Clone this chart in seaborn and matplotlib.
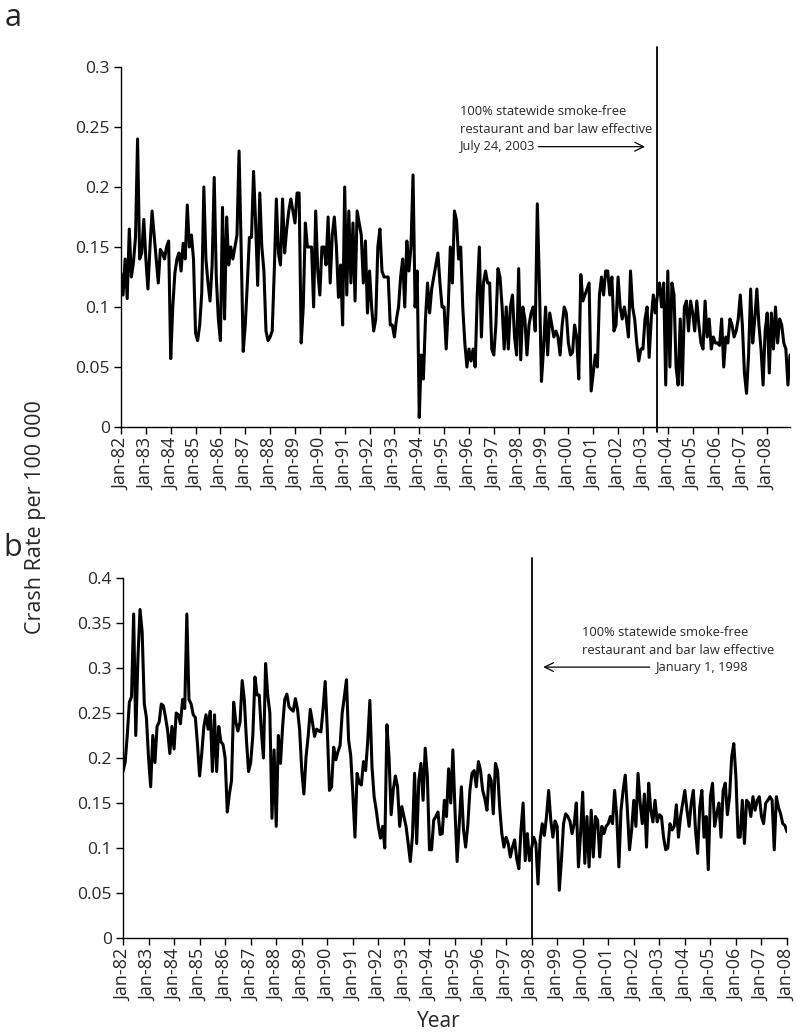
import matplotlib
matplotlib.use("Agg")
import matplotlib.pyplot as plt
import seaborn as sns
import pandas as pd

# ---------------- data (monthly crash rate per 100 000) ----------------
# Panel a: Jan-1982 .. Dec-2008
a1982 = [0.128, 0.11, 0.14, 0.107, 0.165, 0.125, 0.137, 0.158, 0.24, 0.14, 0.145, 0.173]
a1983 = [0.14, 0.115, 0.15, 0.18, 0.16, 0.14, 0.12, 0.148, 0.145, 0.14, 0.15, 0.155]
a1984 = [0.057, 0.1, 0.128, 0.14, 0.145, 0.13, 0.153, 0.14, 0.185, 0.15, 0.16, 0.14]
a1985 = [0.078, 0.072, 0.085, 0.112, 0.2, 0.14, 0.12, 0.105, 0.135, 0.208, 0.125, 0.09]
a1986 = [0.072, 0.183, 0.09, 0.175, 0.135, 0.15, 0.14, 0.15, 0.16, 0.23, 0.15, 0.063]
a1987 = [0.085, 0.12, 0.158, 0.158, 0.213, 0.17, 0.118, 0.195, 0.15, 0.13, 0.08, 0.072]
a1988 = [0.075, 0.08, 0.13, 0.19, 0.145, 0.135, 0.19, 0.145, 0.165, 0.18, 0.19, 0.18]
a1989 = [0.17, 0.195, 0.195, 0.07, 0.1, 0.17, 0.15, 0.15, 0.15, 0.1, 0.18, 0.13]
a1990 = [0.11, 0.15, 0.15, 0.135, 0.175, 0.12, 0.16, 0.175, 0.15, 0.108, 0.135, 0.085]
a1991 = [0.2, 0.11, 0.18, 0.12, 0.17, 0.105, 0.18, 0.17, 0.16, 0.12, 0.155, 0.095]
a1992 = [0.13, 0.1, 0.08, 0.09, 0.15, 0.165, 0.13, 0.125, 0.125, 0.125, 0.085, 0.085]
a1993 = [0.075, 0.09, 0.1, 0.125, 0.14, 0.1, 0.155, 0.13, 0.15, 0.21, 0.1, 0.13]
a1994 = [0.008, 0.06, 0.04, 0.09, 0.12, 0.095, 0.115, 0.125, 0.135, 0.145, 0.12, 0.1]
a1995 = [0.1, 0.065, 0.1, 0.15, 0.12, 0.18, 0.172, 0.14, 0.15, 0.1, 0.07, 0.05]
a1996 = [0.065, 0.055, 0.065, 0.05, 0.11, 0.15, 0.075, 0.12, 0.13, 0.12, 0.12, 0.065]
a1997 = [0.06, 0.085, 0.132, 0.125, 0.1, 0.065, 0.1, 0.065, 0.1, 0.11, 0.075, 0.06]
a1998 = [0.132, 0.056, 0.1, 0.09, 0.06, 0.085, 0.095, 0.1, 0.08, 0.186, 0.12, 0.038]
a1999 = [0.065, 0.1, 0.06, 0.095, 0.085, 0.075, 0.08, 0.075, 0.06, 0.085, 0.1, 0.095]
a2000 = [0.07, 0.06, 0.062, 0.085, 0.075, 0.04, 0.127, 0.105, 0.11, 0.115, 0.12, 0.03]
a2001 = [0.045, 0.06, 0.05, 0.11, 0.125, 0.11, 0.13, 0.13, 0.11, 0.125, 0.08, 0.085]
a2002 = [0.125, 0.1, 0.09, 0.1, 0.09, 0.075, 0.13, 0.1, 0.09, 0.07, 0.055, 0.065]
a2003 = [0.065, 0.09, 0.1, 0.058, 0.09, 0.11, 0.095, 0.11, 0.12, 0.1, 0.12, 0.035]
a2004 = [0.13, 0.05, 0.12, 0.11, 0.05, 0.035, 0.09, 0.035, 0.1, 0.105, 0.08, 0.105]
a2005 = [0.095, 0.08, 0.105, 0.085, 0.07, 0.065, 0.105, 0.075, 0.09, 0.065, 0.075, 0.07]
a2006 = [0.07, 0.068, 0.09, 0.05, 0.075, 0.07, 0.09, 0.085, 0.075, 0.08, 0.09, 0.11]
a2007 = [0.085, 0.045, 0.028, 0.06, 0.115, 0.07, 0.09, 0.115, 0.085, 0.065, 0.035, 0.08]
a2008 = [0.095, 0.045, 0.095, 0.065, 0.1, 0.07, 0.09, 0.085, 0.07, 0.065, 0.035, 0.06]

# Panel b: Jan-1982 .. Jan-2008
b1982 = [0.185, 0.195, 0.225, 0.262, 0.268, 0.36, 0.225, 0.31, 0.365, 0.34, 0.26, 0.245]
b1983 = [0.2, 0.168, 0.225, 0.195, 0.235, 0.24, 0.26, 0.258, 0.245, 0.23, 0.205, 0.235]
b1984 = [0.21, 0.25, 0.248, 0.238, 0.265, 0.255, 0.36, 0.265, 0.26, 0.248, 0.245, 0.215]
b1985 = [0.18, 0.205, 0.235, 0.248, 0.232, 0.252, 0.185, 0.248, 0.185, 0.235, 0.218, 0.215]
b1986 = [0.2, 0.14, 0.16, 0.175, 0.262, 0.24, 0.23, 0.24, 0.286, 0.265, 0.22, 0.185]
b1987 = [0.195, 0.225, 0.29, 0.27, 0.27, 0.23, 0.2, 0.305, 0.27, 0.25, 0.133, 0.209]
b1988 = [0.124, 0.225, 0.194, 0.235, 0.265, 0.271, 0.257, 0.254, 0.252, 0.266, 0.254, 0.231]
b1989 = [0.186, 0.16, 0.201, 0.224, 0.254, 0.24, 0.224, 0.232, 0.23, 0.229, 0.254, 0.285]
b1990 = [0.231, 0.164, 0.168, 0.212, 0.198, 0.207, 0.214, 0.25, 0.268, 0.287, 0.22, 0.203]
b1991 = [0.16, 0.112, 0.183, 0.172, 0.17, 0.196, 0.186, 0.219, 0.264, 0.19, 0.157, 0.142]
b1992 = [0.124, 0.111, 0.124, 0.1, 0.237, 0.201, 0.137, 0.165, 0.18, 0.168, 0.124, 0.146]
b1993 = [0.135, 0.124, 0.105, 0.085, 0.113, 0.183, 0.105, 0.175, 0.194, 0.153, 0.211, 0.18]
b1994 = [0.098, 0.098, 0.131, 0.135, 0.14, 0.115, 0.116, 0.153, 0.135, 0.188, 0.15, 0.209]
b1995 = [0.142, 0.085, 0.127, 0.168, 0.12, 0.101, 0.125, 0.164, 0.183, 0.186, 0.168, 0.196]
b1996 = [0.186, 0.164, 0.155, 0.142, 0.181, 0.175, 0.138, 0.194, 0.186, 0.145, 0.116, 0.101]
b1997 = [0.112, 0.105, 0.09, 0.101, 0.109, 0.088, 0.077, 0.12, 0.15, 0.086, 0.116, 0.086]
b1998 = [0.1, 0.112, 0.105, 0.06, 0.109, 0.127, 0.114, 0.135, 0.164, 0.131, 0.112, 0.13]
b1999 = [0.124, 0.053, 0.086, 0.127, 0.138, 0.135, 0.13, 0.116, 0.127, 0.15, 0.079, 0.116]
b2000 = [0.162, 0.083, 0.135, 0.079, 0.142, 0.09, 0.135, 0.131, 0.09, 0.124, 0.116, 0.124]
b2001 = [0.127, 0.135, 0.127, 0.164, 0.135, 0.079, 0.142, 0.164, 0.181, 0.142, 0.098, 0.12]
b2002 = [0.153, 0.124, 0.183, 0.15, 0.127, 0.16, 0.101, 0.172, 0.142, 0.129, 0.153, 0.129]
b2003 = [0.137, 0.135, 0.112, 0.098, 0.1, 0.127, 0.12, 0.124, 0.148, 0.112, 0.135, 0.15]
b2004 = [0.164, 0.142, 0.124, 0.15, 0.164, 0.12, 0.094, 0.145, 0.164, 0.112, 0.135, 0.076]
b2005 = [0.157, 0.172, 0.124, 0.138, 0.15, 0.112, 0.164, 0.172, 0.137, 0.157, 0.201, 0.216]
b2006 = [0.179, 0.112, 0.112, 0.153, 0.105, 0.153, 0.15, 0.135, 0.157, 0.142, 0.153, 0.157]
b2007 = [0.135, 0.127, 0.15, 0.153, 0.157, 0.153, 0.098, 0.157, 0.145, 0.138, 0.127, 0.125]
b2008 = [0.118]

tick_labels = ["Jan-82", "Jan-83", "Jan-84", "Jan-85", "Jan-86", "Jan-87", "Jan-88",
               "Jan-89", "Jan-90", "Jan-91", "Jan-92", "Jan-93", "Jan-94", "Jan-95",
               "Jan-96", "Jan-97", "Jan-98", "Jan-99", "Jan-00", "Jan-01", "Jan-02",
               "Jan-03", "Jan-04", "Jan-05", "Jan-06", "Jan-07", "Jan-08"]
yticks_a = [0, 0.05, 0.1, 0.15, 0.2, 0.25, 0.3]
yticks_b = [0, 0.05, 0.1, 0.15, 0.2, 0.25, 0.3, 0.35, 0.4]
ylabels_a = ["0", "0.05", "0.1", "0.15", "0.2", "0.25", "0.3"]
ylabels_b = ["0", "0.05", "0.1", "0.15", "0.2", "0.25", "0.3", "0.35", "0.4"]

law_a_month = 258.74   # 24 July 2003, months since Jan-1982
law_b_month = 192.0    # 1 January 1998

rate_a = (a1982 + a1983 + a1984 + a1985 + a1986 + a1987 + a1988 + a1989 + a1990
          + a1991 + a1992 + a1993 + a1994 + a1995 + a1996 + a1997 + a1998 + a1999
          + a2000 + a2001 + a2002 + a2003 + a2004 + a2005 + a2006 + a2007 + a2008)
rate_b = (b1982 + b1983 + b1984 + b1985 + b1986 + b1987 + b1988 + b1989 + b1990
          + b1991 + b1992 + b1993 + b1994 + b1995 + b1996 + b1997 + b1998 + b1999
          + b2000 + b2001 + b2002 + b2003 + b2004 + b2005 + b2006 + b2007 + b2008)

df_a = pd.DataFrame({"month": list(range(len(rate_a))), "rate": rate_a})
df_b = pd.DataFrame({"month": list(range(len(rate_b))), "rate": rate_b})

# ---------------- style ----------------
sns.set_style("ticks")
plt.rcParams["font.family"] = ["Open Sans", "DejaVu Sans"]

W, H = 797, 1035
fig = plt.figure(figsize=(W / 100, H / 100), dpi=100)
axa = fig.add_axes([121 / W, 1 - 427 / H, (790 - 121) / W, 360 / H])
axb = fig.add_axes([123 / W, 1 - 938 / H, (787 - 123) / W, 360 / H])

XTICK_FS = 13
YTICK_FS = 12.5
ANN_FS = 9.3

for ax, df, yt, yl, ymax in [(axa, df_a, yticks_a, ylabels_a, 0.3),
                             (axb, df_b, yticks_b, ylabels_b, 0.4)]:
    sns.lineplot(data=df, x="month", y="rate", ax=ax, color="black", lw=2.2)
    ax.set_xlim(0, len(df) - 1)
    ax.set_ylim(0, ymax)
    ax.set_xticks(list(range(0, 12 * len(tick_labels), 12)))
    ax.set_xticklabels(tick_labels, rotation=90, fontsize=XTICK_FS)
    ax.set_yticks(yt)
    ax.set_yticklabels(yl, fontsize=YTICK_FS)
    ax.set_xlabel("")
    ax.set_ylabel("")
    ax.tick_params(direction="out", length=5, width=1, color="black", pad=3)
    for s in ["left", "bottom"]:
        ax.spines[s].set_linewidth(1.0)
        ax.spines[s].set_color("black")
    sns.despine(ax=ax)

# law lines
axa.plot([law_a_month, law_a_month], [-0.004, 0.317], color="black", lw=1.3, clip_on=False)
axb.plot([law_b_month, law_b_month], [0, 0.422], color="black", lw=1.3, clip_on=False)

# annotations panel a
for txt, yv in [("100% statewide smoke-free", 0.2628),
                ("restaurant and bar law effective", 0.2483),
                ("July 24, 2003", 0.2336)]:
    axa.text(163.5, yv, txt, fontsize=ANN_FS, ha="left", va="center")
axa.annotate("", xy=(253.0, 0.2336), xytext=(201.5, 0.2336),
             arrowprops=dict(arrowstyle="->", color="black", lw=0.9,
                             mutation_scale=16, shrinkA=0, shrinkB=0))

# annotations panel b
axb.text(254.5, 0.339, "100% statewide smoke-free", fontsize=ANN_FS, ha="center", va="center")
axb.text(261.0, 0.320, "restaurant and bar law effective", fontsize=ANN_FS, ha="center", va="center")
axb.text(250.5, 0.301, "January 1, 1998", fontsize=ANN_FS, ha="left", va="center")
axb.annotate("", xy=(197.5, 0.301), xytext=(247.5, 0.301),
             arrowprops=dict(arrowstyle="->", color="black", lw=0.9,
                             mutation_scale=16, shrinkA=0, shrinkB=0))

# labels
fig.text(0.044, 0.5, "Crash Rate per 100 000", rotation=90, ha="center", va="center", fontsize=15.5)
fig.text(0.55, 0.0126, "Year", ha="center", va="center", fontsize=15)
fig.text(0.016, 1 - 18 / H, "a", ha="center", va="center", fontsize=22)
fig.text(0.016, 1 - 548 / H, "b", ha="center", va="center", fontsize=22)

fig.savefig("out.png", dpi=100)
